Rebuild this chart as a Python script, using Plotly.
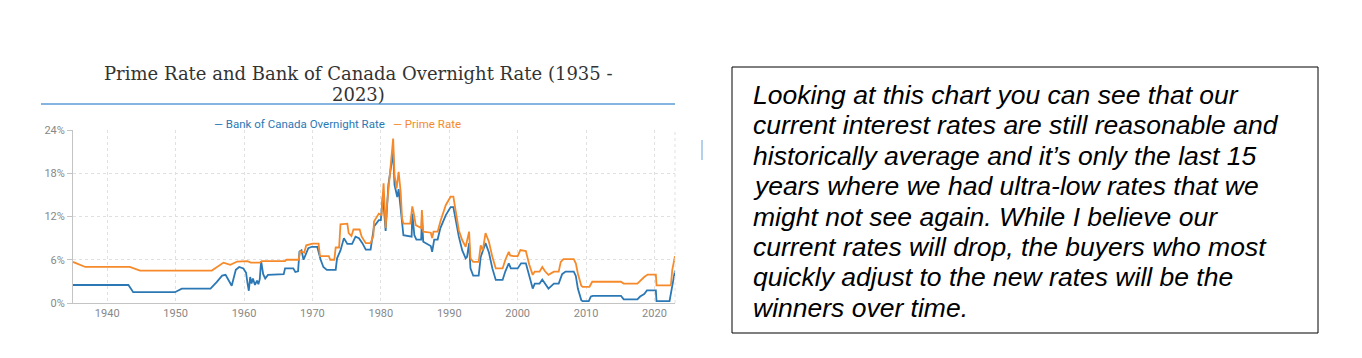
import plotly.graph_objects as go

# ---- data ----
overnight_years = [1935.0, 1943.1, 1943.8, 1949.9, 1950.9, 1955.1, 1956.0, 1956.8, 1957.3, 1957.8,
                   1958.2, 1958.8, 1959.3, 1959.9, 1960.3, 1960.5, 1960.7, 1960.9, 1961.1, 1961.3,
                   1961.6, 1961.9, 1962.1, 1962.3, 1962.5, 1962.8, 1963.1, 1963.5, 1965.8, 1966.0,
                   1967.2, 1967.5, 1967.9, 1968.1, 1968.4, 1968.7, 1969.4, 1969.9, 1970.7, 1971.2,
                   1971.6, 1972.1, 1973.4, 1973.6, 1974.1, 1974.6, 1975.1, 1975.8, 1976.3, 1976.8,
                   1977.3, 1977.8, 1978.5, 1979.0, 1979.7, 1980.0, 1980.3, 1980.7, 1981.1, 1981.6,
                   1981.8, 1982.0, 1982.4, 1982.6, 1982.9, 1983.3, 1984.5, 1984.6, 1984.9, 1985.2,
                   1985.9, 1986.0, 1986.2, 1987.3, 1987.5, 1987.8, 1988.3, 1988.7, 1989.5, 1990.2,
                   1990.6, 1990.9, 1991.4, 1991.9, 1992.4, 1992.6, 1992.9, 1993.1, 1993.5, 1994.3,
                   1994.6, 1995.3, 1995.8, 1996.3, 1996.8, 1997.8, 1998.2, 1998.7, 1999.0, 2000.0,
                   2000.5, 2001.2, 2001.7, 2002.2, 2002.5, 2003.2, 2003.6, 2004.0, 2004.5, 2005.3,
                   2006.0, 2006.5, 2007.0, 2008.2, 2008.5, 2008.8, 2009.3, 2009.5, 2010.4, 2010.7,
                   2011.0, 2015.1, 2015.5, 2017.5, 2017.9, 2018.5, 2018.9, 2020.2, 2020.3, 2022.2,
                   2022.6, 2023.0]
overnight_rate = [2.5, 2.5, 1.5, 1.5, 2.0, 2.0, 2.9, 3.8, 3.9, 3.0,
                  2.4, 4.6, 5.0, 4.8, 4.2, 2.8, 1.7, 3.6, 2.7, 3.4,
                  2.5, 3.1, 2.6, 3.3, 5.8, 4.0, 3.4, 3.9, 4.0, 4.8,
                  4.8, 4.3, 4.4, 7.1, 7.3, 6.0, 7.6, 7.8, 7.8, 6.0,
                  5.0, 4.6, 4.6, 6.2, 7.3, 9.0, 8.2, 8.2, 9.2, 9.0,
                  8.3, 7.4, 7.4, 10.6, 11.5, 11.5, 15.0, 10.0, 16.4, 19.6,
                  21.0, 16.4, 14.7, 15.8, 13.1, 9.4, 9.2, 12.4, 9.4, 8.8,
                  8.8, 11.7, 8.5, 7.9, 7.1, 8.8, 8.8, 10.4, 12.2, 13.3,
                  13.3, 11.6, 9.2, 7.3, 6.2, 6.4, 8.3, 4.8, 3.8, 3.8,
                  6.4, 8.3, 7.0, 4.8, 3.2, 3.2, 4.4, 5.5, 4.8, 4.8,
                  5.5, 5.5, 3.6, 2.0, 2.7, 2.7, 3.25, 2.7, 2.0, 2.7,
                  2.7, 4.0, 4.35, 4.35, 3.75, 2.0, 0.4, 0.25, 0.25, 0.9,
                  1.0, 1.0, 0.5, 0.5, 0.9, 1.25, 1.75, 1.75, 0.25, 0.25,
                  2.25, 4.5]

prime_years = [1935.0, 1936.8, 1943.3, 1944.8, 1955.3, 1957.0, 1958.0, 1959.0, 1960.5, 1961.0,
               1962.3, 1962.6, 1966.0, 1966.2, 1968.0, 1968.2, 1968.8, 1969.1, 1970.0, 1970.9,
               1971.1, 1972.4, 1972.6, 1973.2, 1973.4, 1973.9, 1974.1, 1975.1, 1975.3, 1975.7,
               1976.0, 1976.9, 1977.2, 1977.8, 1978.5, 1978.9, 1979.0, 1979.7, 1980.1, 1980.4,
               1980.7, 1980.9, 1981.2, 1981.5, 1981.8, 1982.0, 1982.3, 1982.6, 1982.9, 1983.1,
               1983.3, 1984.3, 1984.6, 1984.8, 1985.1, 1985.9, 1986.0, 1986.2, 1987.3, 1987.5,
               1987.7, 1988.3, 1988.7, 1989.5, 1990.2, 1990.6, 1990.9, 1991.4, 1991.9, 1992.4,
               1992.9, 1993.1, 1993.5, 1994.3, 1994.6, 1994.9, 1995.3, 1995.8, 1996.3, 1996.8,
               1997.8, 1998.2, 1998.7, 1998.9, 1999.4, 2000.0, 2000.4, 2001.2, 2001.7, 2002.2,
               2002.5, 2003.2, 2003.6, 2004.0, 2004.5, 2005.3, 2006.0, 2006.3, 2006.7, 2008.2,
               2008.5, 2008.8, 2009.3, 2009.5, 2010.5, 2010.9, 2015.1, 2015.5, 2017.5, 2018.0,
               2018.5, 2019.0, 2020.2, 2020.3, 2022.4, 2022.6, 2023.0]
prime_rate = [5.7, 5.0, 5.0, 4.5, 4.5, 5.6, 5.3, 5.75, 5.8, 5.6,
              5.6, 5.8, 5.8, 6.0, 6.0, 7.2, 7.0, 8.0, 8.25, 8.25,
              6.5, 6.5, 6.0, 6.0, 7.7, 7.7, 10.9, 11.0, 9.7, 9.3,
              10.2, 10.2, 9.2, 8.3, 8.3, 9.3, 11.3, 12.4, 12.2, 16.6,
              10.4, 13.6, 16.6, 19.5, 22.8, 17.75, 15.9, 18.2, 15.4, 11.75,
              11.0, 11.0, 13.4, 12.5, 10.8, 10.4, 12.9, 9.9, 9.75, 9.0,
              9.9, 9.9, 11.3, 13.6, 14.75, 14.75, 12.9, 10.1, 8.7, 7.8,
              9.9, 6.2, 5.7, 5.7, 8.0, 7.3, 9.7, 8.5, 6.4, 4.8,
              4.8, 6.0, 7.1, 6.6, 6.5, 6.5, 7.35, 7.2, 5.3, 3.9,
              4.35, 4.35, 5.0, 4.4, 3.9, 4.35, 4.35, 5.7, 6.1, 6.1,
              5.5, 4.1, 2.4, 2.25, 2.25, 2.95, 2.95, 2.7, 2.7, 3.2,
              3.6, 3.95, 3.95, 2.45, 2.45, 4.6, 6.5]

y_ticks = [0, 6, 12, 18, 24]
y_tick_labels = ["0%", "6%", "12%", "18%", "24%"]
x_ticks = [1940, 1950, 1960, 1970, 1980, 1990, 2000, 2010, 2020]

title_lines = ["Prime Rate and Bank of Canada Overnight Rate (1935 -", "2023)"]
note_lines = ["Looking at this chart you can see that our",
              "current interest rates are still reasonable and",
              "historically average and it\u2019s only the last 15",
              "years where we had ultra-low rates that we",
              "might not see again. While I believe our",
              "current rates will drop, the buyers who most",
              "quickly adjust to the new rates will be the",
              "winners over time."]

BLUE = "#2b78b5"
ORANGE = "#f68a2a"

# ---- layout geometry (target pixels in the screenshot) ----
W, H = 1362, 358
L, R, T, B = 73, 675, 130, 303
OFF = 8  # page body margin
pw, ph = R - L, B - T


def px(x):
    return (x - L) / pw


def py(y):
    return (B - y) / ph


fig = go.Figure()
fig.add_trace(go.Scatter(x=overnight_years, y=overnight_rate, mode="lines",
                         name="Bank of Canada Overnight Rate",
                         line=dict(color=BLUE, width=1.8)))
fig.add_trace(go.Scatter(x=prime_years, y=prime_rate, mode="lines",
                         name="Prime Rate",
                         line=dict(color=ORANGE, width=1.8)))

fig.update_layout(
    width=W - OFF, height=H - OFF,
    margin=dict(l=L - OFF, r=W - R, t=T - OFF, b=H - B, pad=0),
    paper_bgcolor="white", plot_bgcolor="white",
    showlegend=False,
    font=dict(family="Roboto, sans-serif", color="#888"),
)
fig.update_xaxes(range=[1935, 2023], tickvals=x_ticks, showgrid=True,
                 gridcolor="#e0e0e0", griddash="dot", gridwidth=1,
                 showline=True, linecolor="#c4c4c4", linewidth=1,
                 ticks="", tickfont=dict(size=11, color="#888"), zeroline=False)
fig.update_yaxes(range=[0, 24], tickvals=y_ticks, ticktext=y_tick_labels, showgrid=True,
                 gridcolor="#e0e0e0", griddash="dot", gridwidth=1,
                 showline=True, linecolor="#c4c4c4", linewidth=1,
                 ticks="outside", ticklen=5, tickcolor="#c4c4c4",
                 tickfont=dict(size=11, color="#888"), zeroline=False)

# right border dotted
fig.add_shape(type="line", xref="paper", yref="paper", x0=1, x1=1, y0=0, y1=1,
              line=dict(color="#e0e0e0", width=1, dash="dot"))

# title (two lines)
title_y = [73, 94]
for line, yy in zip(title_lines, title_y):
    fig.add_annotation(text=line, xref="paper", yref="paper",
                       x=px(358), y=py(yy), xanchor="center", yanchor="middle",
                       showarrow=False,
                       font=dict(family="DejaVu Serif, serif", size=18, color="#333"))
# blue rule under title
fig.add_shape(type="line", xref="paper", yref="paper",
              x0=px(41), x1=px(675), y0=py(104), y1=py(104),
              line=dict(color="#5b9bd5", width=1.5))

# legend (as annotations)
fig.add_annotation(text="\u2014 Bank of Canada Overnight Rate", xref="paper", yref="paper",
                   x=px(212), y=py(124), xanchor="left", yanchor="middle",
                   showarrow=False, font=dict(family="Roboto, sans-serif", size=11.5, color=BLUE))
fig.add_annotation(text="\u2014 Prime Rate", xref="paper", yref="paper",
                   x=px(391), y=py(124), xanchor="left", yanchor="middle",
                   showarrow=False, font=dict(family="Roboto, sans-serif", size=11.5, color=ORANGE))

# faint stray mark
fig.add_shape(type="line", xref="paper", yref="paper",
              x0=px(702), x1=px(702), y0=py(140), y1=py(160),
              line=dict(color="#b3d0ec", width=2))

# text box
fig.add_shape(type="rect", xref="paper", yref="paper",
              x0=px(732), x1=px(1318), y0=py(333), y1=py(67),
              line=dict(color="black", width=1), fillcolor="rgba(0,0,0,0)")
for i, line in enumerate(note_lines):
    fig.add_annotation(text=line, xref="paper", yref="paper",
                       x=px(751), y=py(95 + i * 30.4), xanchor="left", yanchor="middle",
                       showarrow=False, align="left",
                       font=dict(family="Liberation Sans, Arial, sans-serif", size=26.5,
                                 color="black", style="italic"))

fig.write_html("out.html")
